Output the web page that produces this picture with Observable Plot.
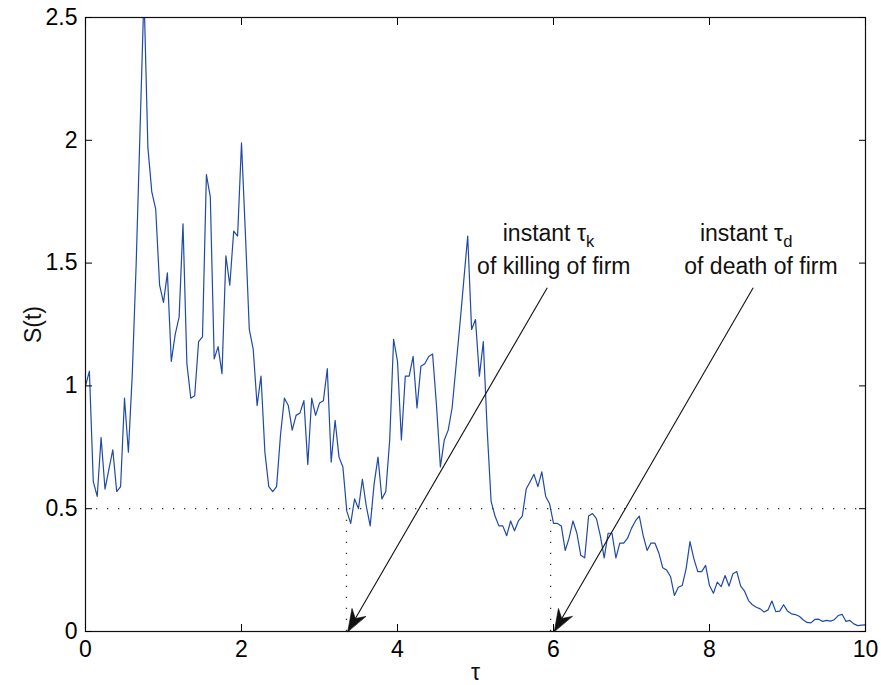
<!DOCTYPE html>
<html><head><meta charset="utf-8">
<script src="https://cdn.jsdelivr.net/npm/d3@7"></script>
<script src="https://cdn.jsdelivr.net/npm/@observablehq/plot@0.6"></script>
<style>body{margin:0;background:#fff;} svg{display:block}</style>
</head><body><div id="chart"></div>
<script>
// S(t) sampled every 0.05 on [0, 10]
const S = [
1.00, 1.06, 0.61, 0.55, 0.79, 0.58, 0.66, 0.74, 0.57, 0.59,
0.95, 0.73, 1.05, 1.50, 2.05, 2.60, 1.97, 1.79, 1.72, 1.41,
1.34, 1.46, 1.10, 1.21, 1.28, 1.66, 1.09, 0.95, 0.96, 1.18,
1.20, 1.86, 1.77, 1.11, 1.16, 1.05, 1.53, 1.41, 1.63, 1.61,
1.99, 1.62, 1.23, 1.15, 0.92, 1.04, 0.73, 0.59, 0.57, 0.59,
0.80, 0.95, 0.92, 0.82, 0.88, 0.89, 0.94, 0.68, 0.95, 0.88,
0.93, 0.94, 1.07, 0.69, 0.86, 0.71, 0.67, 0.49, 0.44, 0.54,
0.50, 0.62, 0.51, 0.43, 0.60, 0.71, 0.54, 0.57, 0.78, 1.19,
1.10, 0.78, 1.04, 1.04, 1.12, 0.91, 1.08, 1.09, 1.12, 1.13,
0.92, 0.67, 0.78, 0.82, 0.91, 1.08, 1.25, 1.43, 1.61, 1.23,
1.27, 1.04, 1.18, 0.82, 0.53, 0.47, 0.43, 0.43, 0.39, 0.45,
0.41, 0.45, 0.47, 0.58, 0.61, 0.64, 0.59, 0.65, 0.55, 0.52,
0.44, 0.44, 0.43, 0.33, 0.38, 0.45, 0.40, 0.31, 0.30, 0.47,
0.48, 0.46, 0.39, 0.30, 0.40, 0.40, 0.30, 0.36, 0.36, 0.38,
0.42, 0.45, 0.47, 0.39, 0.33, 0.36, 0.36, 0.32, 0.26, 0.25,
0.224, 0.147, 0.18, 0.187, 0.255, 0.366, 0.296, 0.244, 0.244, 0.269,
0.187, 0.156, 0.201, 0.183, 0.228, 0.185, 0.235, 0.244, 0.185, 0.164,
0.126, 0.109, 0.099, 0.092, 0.079, 0.088, 0.124, 0.081, 0.083, 0.109,
0.083, 0.072, 0.069, 0.062, 0.048, 0.037, 0.035, 0.049, 0.050, 0.041,
0.045, 0.042, 0.048, 0.065, 0.070, 0.041, 0.045, 0.031, 0.024, 0.026,
0.027
];
const step = 0.05;
const xTicks = [0, 2, 4, 6, 8, 10];
const yTicks = [0, 0.5, 1, 1.5, 2, 2.5];
const threshold = 0.5;
const instants = [3.346, 5.963];           // τk, τd
const arrowTail = [[5.92, 1.40], [8.56, 1.40]];
const arrowTip = [[3.363, 0], [6.01, 0]];
const noteTitle = ["instant τ", "instant τ"];
const noteSub = ["k", "d"];
const noteTitleX = [5.936, 8.47];
const noteTitleY = 1.619;
const noteLine = ["of killing of firm", "of death of firm"];
const noteLineX = [6.004, 8.66];
const noteLineY = 1.486;

const W = 881, H = 685, ML = 85, MR = 16, MT = 17, MB = 54;
const kx = (W - ML - MR) / 10, ky = (H - MT - MB) / 2.5;

const series = S.map((v, i) => ({t: i * step, s: v}));
const arrows = arrowTail.map((a, i) => ({x1: a[0], y1: a[1], x2: arrowTip[i][0], y2: arrowTip[i][1]}));
const titles = noteTitle.map((t, i) => ({x: noteTitleX[i], y: noteTitleY, t: t + noteSub[i]}));
const lines2 = noteLine.map((t, i) => ({x: noteLineX[i], y: noteLineY, t}));

const dart = {draw(ctx, l) {
  const w = l * 0.36;
  ctx.moveTo(0, 0); ctx.lineTo(w, l); ctx.lineTo(0, l * 0.68); ctx.lineTo(-w, l); ctx.closePath();
}};
const dots = "1.3,9.7";
const fmt = d => String(d);

const chart = Plot.plot({
  width: W, height: H,
  marginLeft: ML, marginRight: MR, marginTop: MT, marginBottom: MB,
  style: {fontFamily: "'Liberation Sans', Arial, Helvetica, sans-serif", fontSize: "23px", background: "white", color: "black", overflow: "visible"},
  x: {domain: [0, 10]},
  y: {domain: [0, 2.5]},
  marks: [
    Plot.ruleY([threshold], {stroke: "#333", strokeWidth: 1.3, strokeDasharray: dots}),
    Plot.ruleX(instants, {y1: 0, y2: threshold, stroke: "#333", strokeWidth: 1.3, strokeDasharray: dots}),
    Plot.lineY(series, {x: "t", y: "s", stroke: "#2049a8", strokeWidth: 1.2, clip: true}),
    Plot.link(arrows, {x1: "x1", y1: "y1", x2: "x2", y2: "y2", stroke: "#111", strokeWidth: 1.1}),
    Plot.vector(arrows, {x: "x2", y: "y2", length: 22, anchor: "start", shape: dart,
      rotate: d => Math.atan2((d.x2 - d.x1) * kx, (d.y2 - d.y1) * ky) * 180 / Math.PI,
      fill: "#111", stroke: "#111", strokeWidth: 0.6}),
    Plot.frame({stroke: "#111", strokeWidth: 1.2}),
    Plot.axisX(xTicks, {anchor: "bottom", tickSize: 0, tickPadding: 9, tickFormat: fmt, label: null}),
    Plot.axisX(xTicks, {anchor: "bottom", tickSize: -7, tickFormat: () => "", label: null}),
    Plot.axisX(xTicks, {anchor: "top", tickSize: -7, tickFormat: () => "", label: null}),
    Plot.axisY(yTicks, {anchor: "left", tickSize: 0, tickPadding: 8, tickFormat: fmt, label: null}),
    Plot.axisY(yTicks, {anchor: "left", tickSize: -7, tickFormat: () => "", label: null}),
    Plot.axisY(yTicks, {anchor: "right", tickSize: -7, tickFormat: () => "", label: null}),
    Plot.text(titles, {x: "x", y: "y", text: "t", fill: "#111"}),
    Plot.text(lines2, {x: "x", y: "y", text: "t", fill: "#111"}),
    Plot.text(["τ"], {text: d => d, frameAnchor: "bottom", lineAnchor: "middle", dy: 41, fill: "#111"}),
    Plot.text(["S(t)"], {text: d => d, frameAnchor: "left", textAnchor: "middle", lineAnchor: "middle", dx: -52, rotate: -90, fill: "#111"})
  ]
});
document.getElementById("chart").append(chart);

// subscripts for τk / τd
d3.select(chart).selectAll("text").each(function () {
  const idx = titles.findIndex(d => d.t === this.textContent);
  if (idx < 0) return;
  const t = d3.select(this);
  t.text(noteTitle[idx]);
  t.append("tspan").attr("font-size", "0.72em").attr("dy", "0.32em").text(noteSub[idx]);
});
</script>
</body></html>
